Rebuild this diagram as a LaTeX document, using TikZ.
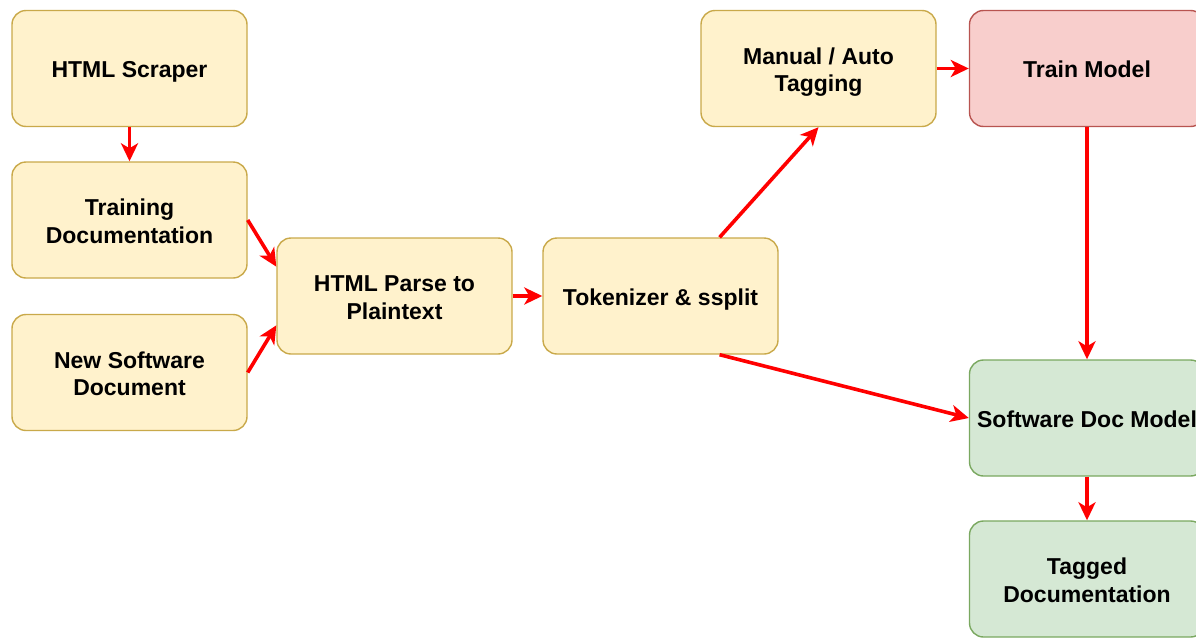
\documentclass[tikz,border=0pt]{standalone}
\usepackage{fontspec}
\setmainfont{Liberation Sans}
\usetikzlibrary{arrows.meta,calc}
\definecolor{yfill}{HTML}{FFF2CC}
\definecolor{ydraw}{HTML}{C9A94A}
\definecolor{rfill}{HTML}{F8CECC}
\definecolor{rdraw}{HTML}{B85450}
\definecolor{gfill}{HTML}{D5E8D4}
\definecolor{gdraw}{HTML}{7AA860}
\definecolor{arrred}{HTML}{FF0000}
\newcommand\lbl[1]{\raisebox{-10pt}[0pt][0pt]{\begin{tabular}{@{}c@{}}#1\end{tabular}}}
\begin{document}
\begin{tikzpicture}[x=1pt,y=1pt,
  box/.style={draw, line width=1.4pt, rounded corners=14pt, minimum width=235pt, minimum height=116pt,
    align=center, inner sep=0pt, font=\fontsize{23}{27.5}\selectfont\bfseries},
  ybox/.style={box, fill=yfill, draw=ydraw},
  rbox/.style={box, fill=rfill, draw=rdraw},
  gbox/.style={box, fill=gfill, draw=gdraw},
  conn/.style={draw=arrred, line width=3.6pt, -{Stealth[length=18pt,width=17pt,inset=5pt]}}
]
\useasboundingbox (0,0) rectangle (1196,-637);
\node[ybox] (scraper) at (129.5,-68.5) {\lbl{HTML Scraper}};
\node[ybox] (training) at (129.5,-220) {\lbl{Training\\Documentation}};
\node[ybox] (newsw) at (129.5,-372.5) {\lbl{New Software\\Document}};
\node[ybox] (parse) at (394.5,-296) {\lbl{HTML Parse to\\Plaintext}};
\node[ybox] (tok) at (660.5,-296) {\lbl{Tokenizer \& ssplit}};
\node[ybox] (manual) at (818.5,-68.5) {\lbl{Manual / Auto\\Tagging}};
\node[rbox] (train) at (1087,-68.5) {\lbl{Train Model}};
\node[gbox] (sdm) at (1087,-418) {\lbl{Software Doc Model}};
\node[gbox] (tagged) at (1087,-579) {\lbl{Tagged\\Documentation}};

\coordinate (pin1) at ($(parse.north west)!0.25!(parse.south west)$);
\coordinate (pin2) at ($(parse.north west)!0.75!(parse.south west)$);
\coordinate (tokup) at ($(tok.north west)!0.75!(tok.north east)$);
\coordinate (tokdn) at ($(tok.south west)!0.75!(tok.south east)$);

\draw[conn] (scraper.south) -- (training.north);
\draw[conn] (training.east) -- (pin1);
\draw[conn] (newsw.east) -- (pin2);
\draw[conn] (parse.east) -- (tok.west);
\draw[conn] (tokup) -- (manual.south);
\draw[conn] (tokdn) -- (sdm.west);
\draw[conn] (manual.east) -- (train.west);
\draw[conn] (train.south) -- (sdm.north);
\draw[conn] (sdm.south) -- (tagged.north);
\end{tikzpicture}
\end{document}
